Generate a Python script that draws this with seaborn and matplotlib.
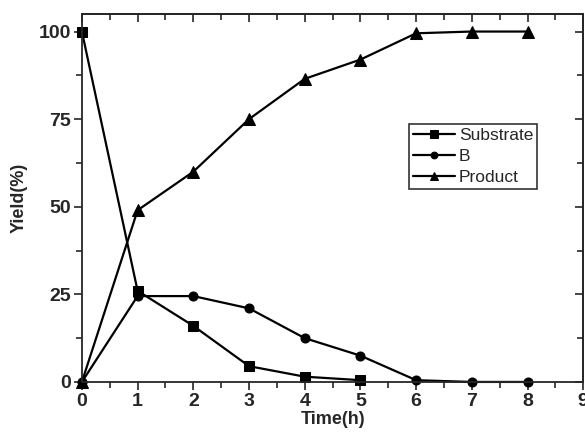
import matplotlib
matplotlib.use("Agg")
import matplotlib.pyplot as plt
from matplotlib.ticker import MultipleLocator
import seaborn as sns
import pandas as pd

# Reaction profile values
substrate_time = [0, 1, 2, 3, 4, 5]
substrate_yield = [100, 26, 16, 4.5, 1.5, 0.5]

b_time = [0, 1, 2, 3, 4, 5, 6, 7, 8]
b_yield = [0, 24.5, 24.5, 21, 12.5, 7.5, 0.5, 0, 0]

product_time = [0, 1, 2, 3, 4, 5, 6, 7, 8]
product_yield = [0, 49, 60, 75, 86.5, 92, 99.5, 100, 100]

x_ticks = [0, 1, 2, 3, 4, 5, 6, 7, 8, 9]
y_ticks = [0, 25, 50, 75, 100]

sns.set_style("ticks")
plt.rcParams["font.family"] = ["Liberation Sans", "DejaVu Sans"]

df = pd.concat([
    pd.DataFrame({"time": substrate_time, "yield": substrate_yield, "series": "Substrate"}),
    pd.DataFrame({"time": b_time, "yield": b_yield, "series": "B"}),
    pd.DataFrame({"time": product_time, "yield": product_yield, "series": "Product"}),
])

fig = plt.figure(figsize=(5.85, 4.38), dpi=100)
ax = fig.add_axes([0.140, 0.128, 0.857, 0.840])

markers = {"Substrate": "s", "B": "o", "Product": "^"}
sizes = {"Substrate": 7, "B": 6.5, "Product": 8.5}
for name in ["Substrate", "B", "Product"]:
    sub = df[df["series"] == name]
    sns.lineplot(data=sub, x="time", y="yield", ax=ax, color="black",
                 linewidth=1.6, marker=markers[name], markersize=sizes[name],
                 markeredgecolor="black", label=name, clip_on=False)

ax.set_xlim(0, 9)
ax.set_ylim(0, 105)
ax.set_xticks(x_ticks)
ax.set_yticks(y_ticks)
ax.xaxis.set_minor_locator(MultipleLocator(0.5))
ax.yaxis.set_minor_locator(MultipleLocator(12.5))
ax.tick_params(which="major", direction="out", length=6, width=1.2,
               labelsize=14, pad=2)
ax.tick_params(which="minor", direction="out", length=4, width=1.2)
for lab in ax.get_xticklabels() + ax.get_yticklabels():
    lab.set_fontweight("bold")

# mirrored inward ticks on top and right, Origin style
top = ax.secondary_xaxis("top")
top.set_xticks(x_ticks)
top.xaxis.set_minor_locator(MultipleLocator(0.5))
top.tick_params(which="major", direction="in", length=6, width=1.2, labeltop=False)
top.tick_params(which="minor", direction="in", length=4, width=1.2)
right = ax.secondary_yaxis("right")
right.set_yticks(y_ticks)
right.yaxis.set_minor_locator(MultipleLocator(12.5))
right.tick_params(which="major", direction="in", length=6, width=1.2, labelright=False)
right.tick_params(which="minor", direction="in", length=4, width=1.2)

for s in ax.spines.values():
    s.set_linewidth(1.3)
    s.set_visible(True)
for s in list(top.spines.values()) + list(right.spines.values()):
    s.set_linewidth(1.3)

ax.set_xlabel("Time(h)", fontsize=13, fontweight="bold", labelpad=1)
ax.set_ylabel("Yield(%)", fontsize=13, fontweight="bold", labelpad=8)

leg = ax.legend(loc="upper left", bbox_to_anchor=(0.653, 0.701), fontsize=12.5,
                frameon=True, fancybox=False, edgecolor="black",
                borderpad=0.2, labelspacing=0.35, handlelength=2.45,
                handletextpad=0.2, borderaxespad=0, markerscale=0.75)
leg.get_frame().set_linewidth(1.2)

fig.savefig("out.png", dpi=100)
